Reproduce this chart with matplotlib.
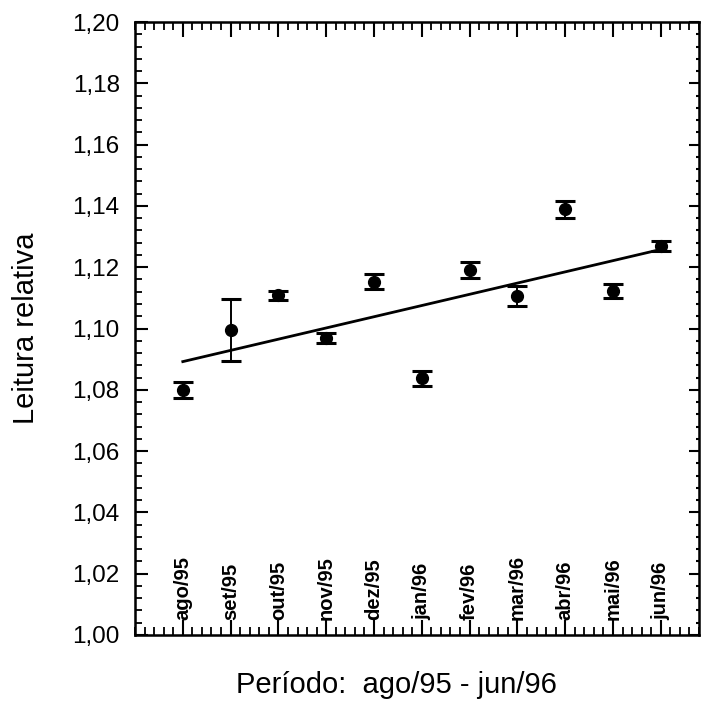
import numpy as np
import matplotlib
matplotlib.use("Agg")
import matplotlib.pyplot as plt
from matplotlib.ticker import MultipleLocator, FixedLocator, FuncFormatter

plt.rcParams['font.family'] = ['Liberation Sans', 'DejaVu Sans']

# data
months = ["ago/95", "set/95", "out/95", "nov/95", "dez/95", "jan/96",
          "fev/96", "mar/96", "abr/96", "mai/96", "jun/96"]
leitura = [1.0799, 1.0995, 1.1109, 1.0968, 1.1153, 1.0837,
           1.1191, 1.1106, 1.1389, 1.1122, 1.1269]
erro = [0.0026, 0.0101, 0.0015, 0.0016, 0.0024, 0.0024,
        0.0025, 0.0034, 0.0027, 0.0024, 0.0017]
# straight line drawn through the points (first and last month)
ajuste = [1.0892, 1.1258]

x = np.arange(len(months))

fig = plt.figure(figsize=(7.01, 7.22), dpi=100)
ax = fig.add_axes([0.1926, 0.1205, 0.8046, 0.849])

ax.errorbar(x, leitura, yerr=erro, fmt='o', color='black', ms=8.5,
            capsize=7, capthick=2.2, elinewidth=1.4)
ax.plot([x[0], x[-1]], ajuste, color='black', lw=2)

ax.set_xlim(-1, 10.8)
ax.set_ylim(1.00, 1.20)

for s in ax.spines.values():
    s.set_linewidth(1.8)

# y axis
ax.yaxis.set_major_locator(MultipleLocator(0.02))
ax.yaxis.set_minor_locator(MultipleLocator(0.004))
ax.yaxis.set_major_formatter(FuncFormatter(lambda v, p: f"{v:.2f}".replace('.', ',')))
ax.tick_params(axis='y', which='major', direction='in', length=9, width=1.5,
               labelsize=17.5, pad=11, right=False)
ax.tick_params(axis='y', which='minor', direction='in', length=5, width=1.3, right=False)

# x axis (top and bottom)
ax.xaxis.set_major_locator(FixedLocator(x))
ax.xaxis.set_minor_locator(MultipleLocator(0.2))
ax.tick_params(axis='x', which='major', direction='in', length=11, width=1.5,
               top=True, labelbottom=False)
ax.tick_params(axis='x', which='minor', direction='in', length=6, width=1.3, top=True)

# right side ticks are shorter
ax2 = ax.twinx()
ax2.set_ylim(ax.get_ylim())
ax2.yaxis.set_major_locator(MultipleLocator(0.02))
ax2.yaxis.set_minor_locator(MultipleLocator(0.004))
ax2.tick_params(axis='y', which='major', direction='in', length=7, width=1.5, labelright=False)
ax2.tick_params(axis='y', which='minor', direction='in', length=2, width=1.5)

for xi, m in zip(x, months):
    ax.text(xi, 1.005, m, rotation=90, ha='center', va='bottom', fontsize=14.5,
            fontweight='bold')

fig.text(0.037, 0.545, "Leitura relativa", rotation=90, ha='center', va='center', fontsize=21)
fig.text(0.565, 0.051, "Período:  ago/95 - jun/96", ha='center', va='center', fontsize=21)

fig.savefig("out.png", dpi=100)
